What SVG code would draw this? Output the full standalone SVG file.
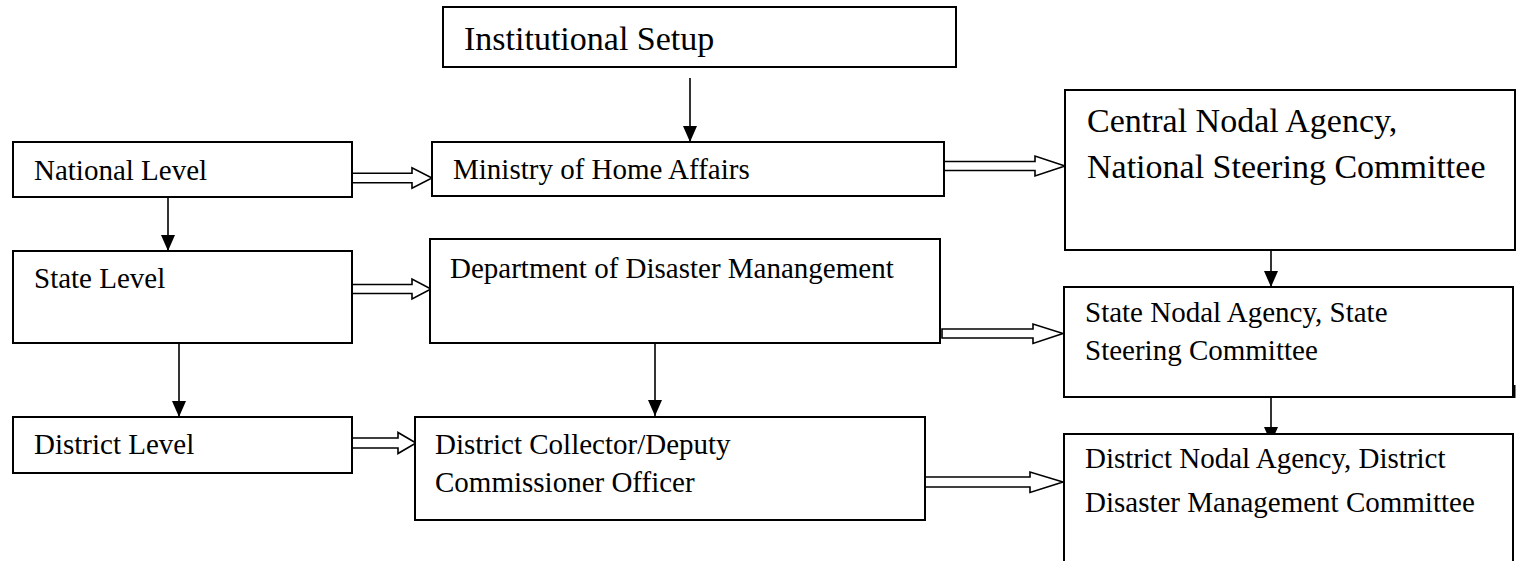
<svg xmlns="http://www.w3.org/2000/svg" width="1521" height="561" viewBox="0 0 1521 561">
<defs>
<style>
.box{fill:#fff;stroke:#000;stroke-width:2}
.t{font-family:"Liberation Serif","Times New Roman",serif;font-size:29px;fill:#000}
.tl{font-family:"Liberation Serif","Times New Roman",serif;font-size:34px;fill:#000}
.v{stroke:#000;stroke-width:1.6;fill:none}
.blk{fill:#fff;stroke:#000;stroke-width:1.6;stroke-linejoin:miter}
</style>
<marker id="ah" markerUnits="userSpaceOnUse" markerWidth="16" markerHeight="18" viewBox="0 0 16 14" refX="16" refY="7" orient="auto">
<path d="M0,0 L16,7 L0,14 Z" fill="#000"/>
</marker>
</defs>
<rect width="1521" height="561" fill="#fff"/>
<g id="connectors">
<line class="v" x1="690" y1="78" x2="690" y2="142" marker-end="url(#ah)"/>
<line class="v" x1="168" y1="197" x2="168" y2="251" marker-end="url(#ah)"/>
<line class="v" x1="179" y1="343" x2="179" y2="417" marker-end="url(#ah)"/>
<line class="v" x1="655" y1="343" x2="655" y2="416" marker-end="url(#ah)"/>
<line class="v" x1="1271" y1="250" x2="1271" y2="287" marker-end="url(#ah)"/>
<line class="v" x1="1271" y1="397" x2="1271" y2="443" marker-end="url(#ah)"/>
<polygon class="blk" points="352,173.3 412,173.3 412,167.7 432,178 412,188.3 412,182.7 352,182.7"/>
<polygon class="blk" points="352,284.5 412,284.5 412,279 431,289 412,299 412,293.5 352,293.5"/>
<polygon class="blk" points="352,438 398,438 398,432.5 416,443 398,453.5 398,448 352,448"/>
<polygon class="blk" points="944,161.5 1035,161.5 1035,156 1065,166 1035,176 1035,170.5 944,170.5"/>
<polygon class="blk" points="942,329 1033,329 1033,324 1063,333.5 1033,343.5 1033,338 942,338"/>
<polygon class="blk" points="925,477 1030,477 1030,472 1063,482 1030,492.5 1030,487 925,487"/>
</g>
<g id="n-institutional">
<rect class="box" x="443" y="7" width="513" height="60"/>
<text class="tl" x="464" y="50">Institutional Setup</text>
</g>
<g id="n-national">
<rect class="box" x="13" y="142" width="339" height="55"/>
<text class="t" x="34" y="180">National Level</text>
</g>
<g id="n-state">
<rect class="box" x="13" y="251" width="339" height="92"/>
<text class="t" x="34" y="288">State Level</text>
</g>
<g id="n-district">
<rect class="box" x="13" y="417" width="339" height="56"/>
<text class="t" x="34" y="454">District Level</text>
</g>
<g id="n-ministry">
<rect class="box" x="432" y="142" width="512" height="54"/>
<text class="t" x="453" y="179">Ministry of Home Affairs</text>
</g>
<g id="n-department">
<rect class="box" x="430" y="239" width="510" height="104"/>
<text class="t" x="450" y="278">Department of Disaster Manangement</text>
</g>
<g id="n-collector">
<rect class="box" x="415" y="417" width="510" height="103"/>
<text class="t" x="435" y="454">District Collector/Deputy</text>
<text class="t" x="435" y="492">Commissioner Officer</text>
</g>
<g id="n-central">
<rect class="box" x="1065" y="90" width="450" height="160"/>
<text class="tl" x="1087" y="132">Central Nodal Agency,</text>
<text class="tl" x="1087" y="178">National Steering Committee</text>
</g>
<g id="n-state-nodal">
<rect class="box" x="1064" y="287" width="449" height="110"/>
<line x1="1514.5" y1="385" x2="1514.5" y2="398" stroke="#000" stroke-width="2"/>
<text class="t" x="1085" y="322">State Nodal Agency, State</text>
<text class="t" x="1085" y="360">Steering Committee</text>
</g>
<g id="n-district-nodal">
<rect class="box" x="1064" y="434" width="449" height="140"/>
<text class="t" x="1085" y="468">District Nodal Agency, District</text>
<text class="t" x="1085" y="512">Disaster Management Committee</text>
</g>
</svg>
